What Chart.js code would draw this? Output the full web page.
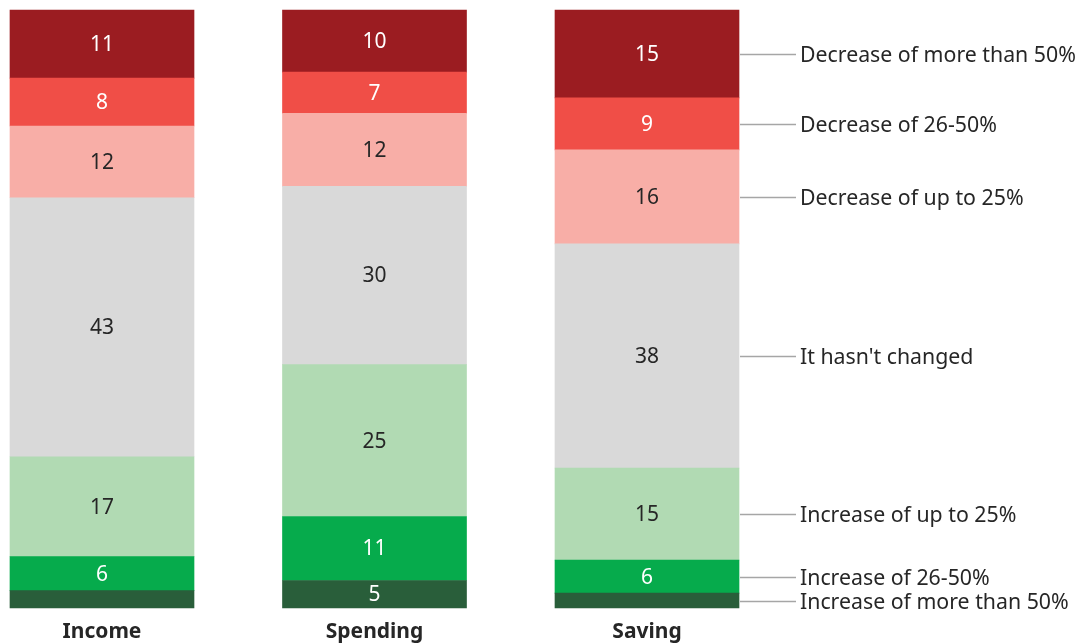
<!DOCTYPE html>
<html>
<head>
<meta charset="utf-8">
<script src="https://cdn.jsdelivr.net/npm/chart.js@4/dist/chart.umd.min.js"></script>
<style>
  html, body { margin: 0; padding: 0; background: #ffffff; }
  #wrap { position: relative; width: 1083px; height: 643px; }
</style>
</head>
<body>
<div id="wrap"><canvas id="c" width="1083" height="643"></canvas></div>
<script>
// Categories
const categories = ["Income", "Spending", "Saving"];

// Series (share of respondents, %), bottom to top of each stack
const seriesNames = [
  "Increase of more than 50%",
  "Increase of 26-50%",
  "Increase of up to 25%",
  "It hasn't changed",
  "Decrease of up to 25%",
  "Decrease of 26-50%",
  "Decrease of more than 50%"
];
const increaseMoreThan50 = [2.9, 4.6, 2.5];
const increase26to50     = [5.7, 10.7, 5.5];
const increaseUpTo25     = [16.7, 25.4, 15.4];
const notChanged         = [43.3, 29.8, 37.5];
const decreaseUpTo25     = [12.0, 12.2, 15.7];
const decrease26to50     = [8.0, 6.9, 8.7];
const decreaseMoreThan50 = [11.4, 10.4, 14.7];

const seriesColors = ["#295E3A", "#06AB4C", "#B1DAB3", "#D9D9D9", "#F8AEA7", "#F04E47", "#9B1C21"];
const labelColors  = ["#ffffff", "#ffffff", "#262626", "#262626", "#262626", "#ffffff", "#ffffff"];

const seriesValues = [increaseMoreThan50, increase26to50, increaseUpTo25, notChanged,
                      decreaseUpTo25, decrease26to50, decreaseMoreThan50];

const FONT = "'Noto Sans', 'Open Sans', sans-serif";

const valueLabels = {
  id: 'valueLabels',
  afterDatasetsDraw(chart) {
    const ctx = chart.ctx;
    ctx.save();
    ctx.font = "21px " + FONT;
    ctx.textAlign = 'center';
    ctx.textBaseline = 'middle';
    chart.data.datasets.forEach((ds, di) => {
      const meta = chart.getDatasetMeta(di);
      meta.data.forEach((el, i) => {
        const v = ds.data[i];
        if (v < 3) return;
        ctx.fillStyle = labelColors[di];
        ctx.fillText(String(Math.round(v)), el.x, (el.y + el.base) / 2 + 1);
      });
    });
    ctx.restore();
  }
};

const seriesLabels = {
  id: 'seriesLabels',
  afterDatasetsDraw(chart) {
    const ctx = chart.ctx;
    const last = categories.length - 1;
    ctx.save();
    ctx.font = "21.3px " + FONT;
    ctx.textAlign = 'left';
    ctx.textBaseline = 'middle';
    chart.data.datasets.forEach((ds, di) => {
      const el = chart.getDatasetMeta(di).data[last];
      const yc = Math.round((el.y + el.base) / 2) + 0.5;
      const xr = el.x + el.width / 2;
      ctx.strokeStyle = '#a6a6a6';
      ctx.lineWidth = 1.5;
      ctx.beginPath();
      ctx.moveTo(xr + 1, yc);
      ctx.lineTo(xr + 57, yc);
      ctx.stroke();
      ctx.fillStyle = '#262626';
      ctx.fillText(ds.label, xr + 61, yc + 1);
    });
    ctx.restore();
  }
};

new Chart(document.getElementById('c'), {
  type: 'bar',
  data: {
    labels: categories,
    datasets: seriesNames.map((name, i) => ({
      label: name,
      data: seriesValues[i],
      backgroundColor: seriesColors[i],
      borderWidth: 0,
      barThickness: 184,
      clip: false
    }))
  },
  options: {
    responsive: false,
    animation: false,
    layout: { padding: { left: 102, right: 436, top: 10, bottom: 0 } },
    plugins: { legend: { display: false }, tooltip: { enabled: false } },
    scales: {
      x: {
        stacked: true,
        offset: false,
        grid: { display: false, drawTicks: false },
        border: { display: false },
        ticks: { color: '#262626', font: { family: FONT, size: 21, weight: 'bold' }, padding: 11, maxRotation: 0 },
        afterFit(s) { s.height = 35; }
      },
      y: {
        stacked: true,
        display: false,
        min: 0,
        max: 100
      }
    }
  },
  plugins: [valueLabels, seriesLabels]
});
</script>
</body>
</html>
